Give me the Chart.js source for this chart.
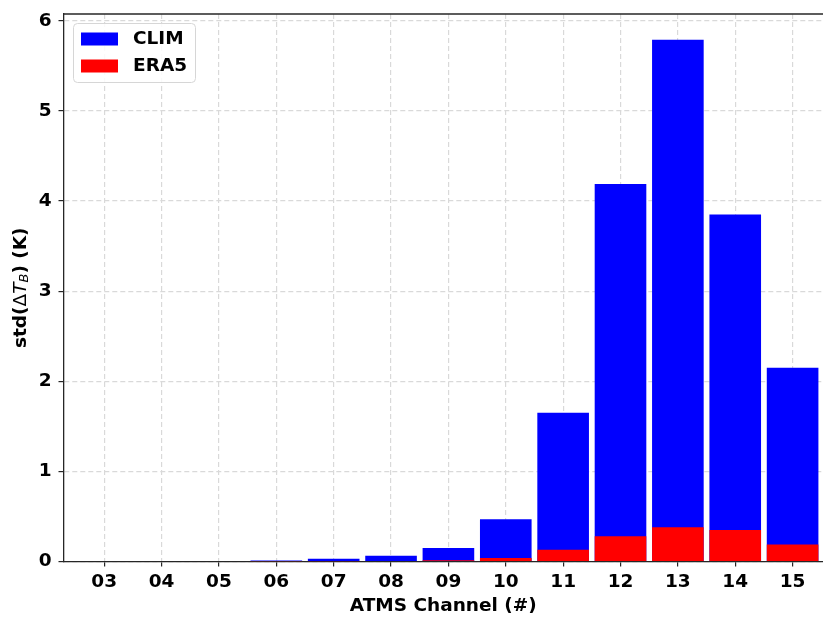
<!DOCTYPE html>
<html>
<head>
<meta charset="utf-8">
<script src="https://cdn.jsdelivr.net/npm/chart.js@4"></script>
<style>
  html, body { margin: 0; padding: 0; background: #fff; }
  #wrap { width: 823px; height: 617px; }
</style>
</head>
<body>
<div id="wrap"><canvas id="chart"></canvas></div>
<script>
// ATMS channels and std of brightness temperature departures (K)
const channels = ['03', '04', '05', '06', '07', '08', '09', '10', '11', '12', '13', '14', '15'];
const climStd = [0, 0, 0, 0.012, 0.03, 0.065, 0.15, 0.47, 1.65, 4.19, 5.79, 3.85, 2.15];
const era5Std = [0, 0, 0, 0.002, 0.003, 0.005, 0.015, 0.04, 0.13, 0.28, 0.38, 0.35, 0.19];
const yTicks = [0, 1, 2, 3, 4, 5, 6];

const FONT = 'DejaVu Sans';
const FS = 18.5;

const toPoints = vals => vals.map((v, i) => ({ x: i, y: v }));

// top spine + legend + y label (mathtext style)
const decor = {
    id: 'decor',
    afterDraw(chart) {
        const { ctx, chartArea: a } = chart;
        ctx.save();
        ctx.strokeStyle = '#262626';
        ctx.lineWidth = 1.3;
        ctx.beginPath();
        ctx.moveTo(a.left, a.top);
        ctx.lineTo(a.right, a.top);
        ctx.stroke();

        // legend box
        ctx.beginPath();
        ctx.roundRect(73.5, 23.5, 122, 59, 4);
        ctx.fillStyle = 'rgba(255,255,255,0.85)';
        ctx.fill();
        ctx.strokeStyle = '#d6d6d6';
        ctx.lineWidth = 1;
        ctx.stroke();
        chart.data.datasets.forEach((ds, i) => {
            const y = 32.5 + i * 27;
            ctx.fillStyle = ds.backgroundColor;
            ctx.fillRect(81, y, 37, 13);
            ctx.fillStyle = '#000';
            ctx.font = 'bold ' + FS + 'px "' + FONT + '"';
            ctx.textBaseline = 'middle';
            ctx.textAlign = 'left';
            ctx.fillText(ds.label, 133, y + 7);
        });

        // y-axis label: std(ΔT_B) (K)
        const parts = [
            { t: 'std(', f: 'bold ' + FS + 'px "' + FONT + '"', dy: 0 },
            { t: 'Δ', f: FS + 'px "' + FONT + '"', dy: 0 },
            { t: 'T', f: 'italic ' + FS + 'px "' + FONT + '"', dy: 0 },
            { t: 'B', f: 'italic 13px "' + FONT + '"', dy: 4 },
            { t: ') (K)', f: 'bold ' + FS + 'px "' + FONT + '"', dy: 0 }
        ];
        let total = 0;
        parts.forEach(p => { ctx.font = p.f; p.w = ctx.measureText(p.t).width; total += p.w; });
        ctx.translate(21, (a.top + a.bottom) / 2);
        ctx.rotate(-Math.PI / 2);
        ctx.fillStyle = '#000';
        ctx.textBaseline = 'middle';
        ctx.textAlign = 'left';
        let x = -total / 2;
        parts.forEach(p => {
            ctx.font = p.f;
            ctx.fillText(p.t, x, p.dy);
            x += p.w;
        });
        ctx.restore();
    }
};

new Chart(document.getElementById('chart'), {
    type: 'bar',
    data: {
        datasets: [
            { label: 'CLIM', data: toPoints(climStd), backgroundColor: '#0000ff', order: 2 },
            { label: 'ERA5', data: toPoints(era5Std), backgroundColor: '#ff0000', order: 1 }
        ]
    },
    options: {
        responsive: true,
        maintainAspectRatio: false,
        animation: false,
        layout: { padding: { left: 0, right: 0, top: 14, bottom: 0 } },
        grouped: false,
        barPercentage: 0.9,
        categoryPercentage: 1.0,
        plugins: { legend: { display: false }, tooltip: { enabled: false } },
        scales: {
            x: {
                type: 'linear',
                offset: false,
                min: -0.71,
                max: 12.53,
                afterBuildTicks: s => { s.ticks = channels.map((c, i) => ({ value: i })); },
                afterFit: s => { s.height = 55.5; s.paddingLeft = 0; s.paddingRight = 0; },
                ticks: {
                    autoSkip: false,
                    maxRotation: 0,
                    padding: 5,
                    color: '#000',
                    font: { family: FONT, size: FS, weight: 'bold' },
                    callback: v => channels[v]
                },
                grid: { offset: false, color: '#d9d9d9', lineWidth: 1.2, tickColor: '#262626', tickLength: 5, tickWidth: 1.2 },
                border: { color: '#262626', width: 1.3, dash: [5, 3] },
                title: {
                    display: true,
                    text: 'ATMS Channel (#)',
                    color: '#000',
                    font: { family: FONT, size: FS, weight: 'bold' },
                    padding: { top: 0, bottom: 0 }
                }
            },
            y: {
                min: 0,
                max: 6.075,
                afterBuildTicks: s => { s.ticks = yTicks.map(v => ({ value: v })); },
                afterFit: s => { s.width = 63.5; s.paddingTop = 0; s.paddingBottom = 0; },
                ticks: {
                    padding: 7,
                    color: '#000',
                    font: { family: FONT, size: FS, weight: 'bold' }
                },
                grid: { color: '#d9d9d9', lineWidth: 1.2, tickColor: '#262626', tickLength: 5, tickWidth: 1.2 },
                border: { color: '#262626', width: 1.3, dash: [5, 3] }
            }
        }
    },
    plugins: [decor]
});
</script>
</body>
</html>
